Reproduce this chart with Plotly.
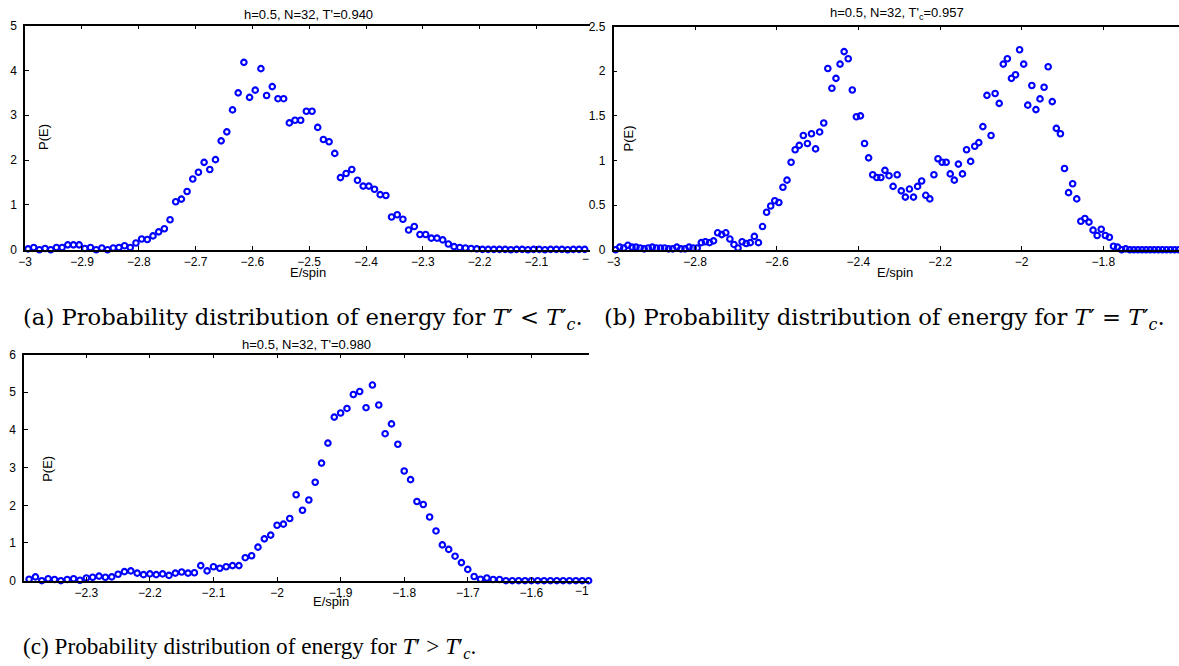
import plotly.graph_objects as go

W, H = 1179, 666

# ---------------- data ----------------
# bin centres: start value and bin width of the energy histogram
E_start_a = -2.995
E_start_b = -2.995
E_start_c = -2.39
E_bin = 0.01

P_a = [0.02, 0.05, 0.00, 0.03, 0.00, 0.05, 0.05, 0.11, 0.11, 0.11,
       0.03, 0.05, 0.00, 0.04, 0.00, 0.04, 0.05, 0.09, 0.05, 0.15,
       0.24, 0.23, 0.31, 0.40, 0.47, 0.67, 1.07, 1.13, 1.30, 1.58,
       1.73, 1.95, 1.79, 2.01, 2.43, 2.63, 3.12, 3.50, 4.18, 3.40,
       3.56, 4.04, 3.44, 3.64, 3.37, 3.37, 2.83, 2.89, 2.89, 3.09,
       3.09, 2.73, 2.46, 2.41, 2.15, 1.61, 1.70, 1.79, 1.55, 1.42,
       1.42, 1.35, 1.23, 1.21, 0.73, 0.78, 0.68, 0.44, 0.52, 0.34,
       0.34, 0.26, 0.26, 0.22, 0.13, 0.07, 0.05, 0.04, 0.03, 0.02,
       0.01, 0.01, 0.01, 0.01, 0.01, 0.00, 0.01, 0.01, 0.00, 0.01,
       0.01, 0.00, 0.01, 0.01, 0.01, 0.00, 0.01, 0.01, 0.01, 0.01]

P_b = [0.00, 0.03, 0.02, 0.05, 0.03, 0.03, 0.02, 0.01, 0.02, 0.03,
       0.02, 0.02, 0.02, 0.01, 0.01, 0.03, 0.01, 0.01, 0.03, 0.02,
       0.02,
       0.08, 0.09, 0.08, 0.10, 0.19, 0.17, 0.19, 0.12, 0.06, 0.02,
       0.09, 0.07, 0.08, 0.15, 0.08, 0.26, 0.42, 0.49, 0.55, 0.53,
       0.70, 0.78, 0.98, 1.12, 1.17, 1.28, 1.19, 1.30, 1.13, 1.32,
       1.42, 2.03, 1.81, 1.92, 2.08, 2.22, 2.14, 1.79, 1.49, 1.50,
       1.19, 1.03, 0.84, 0.81, 0.81, 0.89, 0.83,
       0.71, 0.84, 0.66, 0.59, 0.68, 0.59, 0.71, 0.77, 0.61, 0.57,
       0.84, 1.02, 0.98, 0.98, 0.85, 0.78, 0.96, 0.85, 1.12, 0.99,
       1.16, 1.20, 1.38, 1.73, 1.28, 1.75, 1.64, 2.08, 2.14, 1.92,
       1.96, 2.24, 2.08, 1.62, 1.84, 1.57, 1.69, 1.82, 2.05, 1.66,
       1.36, 1.30, 0.91, 0.64, 0.74, 0.57, 0.32, 0.35, 0.31, 0.22,
       0.16, 0.23, 0.16, 0.14, 0.04, 0.03, 0.00, 0.01,
       0.00, 0.00, 0.00, 0.00, 0.00, 0.00, 0.00, 0.00, 0.00, 0.00,
       0.00, 0.00, 0.00]

P_c = [0.04, 0.10, 0.00, 0.05, 0.03, 0.00, 0.03, 0.05, 0.01, 0.07,
       0.09, 0.12, 0.09, 0.10, 0.17, 0.24, 0.26, 0.20, 0.16, 0.18,
       0.16, 0.18, 0.14, 0.20, 0.23, 0.20, 0.21, 0.40, 0.26, 0.37,
       0.33, 0.37, 0.40, 0.40, 0.61, 0.66, 0.89, 1.11, 1.21, 1.47,
       1.50, 1.65, 2.28, 1.87,
       2.14, 2.61, 3.12, 3.65, 4.34, 4.45, 4.57, 4.94, 5.02, 4.59,
       5.19, 4.66, 3.90, 4.16, 3.62, 2.91, 2.68, 2.10, 2.02, 1.69,
       1.32, 0.95, 0.83, 0.65, 0.48, 0.30, 0.11, 0.04, 0.07, 0.03,
       0.03, 0.00,
       0.00, 0.00, 0.00, 0.00, 0.00, 0.00, 0.00, 0.00, 0.00, 0.00,
       0.00, 0.00, 0.00]

ticks_x_a = [-3, -2.9, -2.8, -2.7, -2.6, -2.5, -2.4, -2.3, -2.2, -2.1]
ticks_y_a = [0, 1, 2, 3, 4, 5]
ticks_x_b = [-3, -2.8, -2.6, -2.4, -2.2, -2, -1.8]
ticks_y_b = [0, 0.5, 1, 1.5, 2, 2.5]
ticks_x_c = [-2.3, -2.2, -2.1, -2, -1.9, -1.8, -1.7, -1.6]
ticks_y_c = [0, 1, 2, 3, 4, 5, 6]

titles = ["h=0.5, N=32, T'=0.940",
          "h=0.5, N=32, T'<sub>c</sub>=0.957",
          "h=0.5, N=32, T'=0.980"]
captions = ["(a) Probability distribution of energy for <i>T</i>′ &lt; <i>T</i>′<sub><i>c</i></sub>.",
            "(b) Probability distribution of energy for <i>T</i>′ = <i>T</i>′<sub><i>c</i></sub>.",
            "(c) Probability distribution of energy for <i>T</i>′ &gt; <i>T</i>′<sub><i>c</i></sub>."]
# tick labels that are cut off at the right edge of the cropped panels (a) and (c)
cut_labels = ["−", "−1"]

E_a = [E_start_a + E_bin * i for i in range(len(P_a))]
E_b = [E_start_b + E_bin * i for i in range(len(P_b))]
E_c = [E_start_c + E_bin * i for i in range(len(P_c))]

# ---------------- figure ----------------
BLUE = "#0000ff"
SANS = "Liberation Sans, Arial, Helvetica, sans-serif"


def px_x(p):
    return p / W


def px_y(p):
    return 1 - p / H


fig = go.Figure()
marker = dict(symbol="circle-open", size=5.5, color=BLUE, line=dict(width=2.1, color=BLUE))
for E, P, xa, ya in [(E_a, P_a, "x", "y"), (E_b, P_b, "x2", "y2"), (E_c, P_c, "x3", "y3")]:
    fig.add_trace(go.Scatter(x=E, y=P, mode="markers", marker=marker,
                             xaxis=xa, yaxis=ya, cliponaxis=False,
                             hoverinfo="x+y"))

ax_common = dict(showgrid=False, zeroline=False, showline=True, linecolor="black",
                 linewidth=1.6, ticks="inside", ticklen=4, tickcolor="black",
                 tickwidth=1, tickfont=dict(family=SANS, size=12, color="black"))


def xax(domain, rng, tv, anchor):
    d = dict(ax_common)
    d.update(domain=domain, range=rng, tickvals=tv, anchor=anchor, mirror="ticks",
             ticklabelstandoff=0)
    return d


def yax(domain, rng, tv, anchor):
    d = dict(ax_common)
    d.update(domain=domain, range=rng, tickvals=tv, anchor=anchor, mirror=False,
             ticklabelstandoff=4)
    return d


fig.update_layout(
    width=W, height=H, margin=dict(l=0, r=0, t=0, b=0),
    paper_bgcolor="white", plot_bgcolor="rgba(0,0,0,0)", showlegend=False,
    xaxis=xax([px_x(18.3), px_x(586)], [-3, -2.0065], ticks_x_a, "y"),
    yaxis=yax([px_y(248), px_y(19)], [0, 5], ticks_y_a, "x"),
    xaxis2=xax([px_x(610.2), 1.0], [-3, -1.6144], ticks_x_b, "y2"),
    yaxis2=yax([px_y(248), px_y(20)], [0, 2.5], ticks_y_b, "x2"),
    xaxis3=xax([px_x(17.3), px_x(585.7)], [-2.3977, -1.509], ticks_x_c, "y3"),
    yaxis3=yax([px_y(586), px_y(355)], [0, 6], ticks_y_c, "x3"),
)

ann = []
lab_font = dict(family=SANS, size=13, color="black")
# titles
for t, (x, y) in zip(titles, [(303, 8), (895, 7), (301, 345)]):
    ann.append(dict(text=t, x=px_x(x), y=px_y(y), xref="paper", yref="paper",
                    xanchor="center", yanchor="middle", showarrow=False, font=lab_font))
# y labels
for (x, y) in [(36, 133), (625, 134), (40, 472)]:
    ann.append(dict(text="P(E)", x=px_x(x), y=px_y(y), xref="paper", yref="paper",
                    xanchor="center", yanchor="middle", textangle=-90, showarrow=False,
                    font=lab_font))
# x labels
for (x, y) in [(303, 271), (893, 271), (326, 607)]:
    ann.append(dict(text="E/spin", x=px_x(x), y=px_y(y), xref="paper", yref="paper",
                    xanchor="center", yanchor="middle", showarrow=False, font=lab_font))
# cut tick labels at the right edge
for t, (x, y) in zip(cut_labels, [(587, 257), (587, 597)]):
    ann.append(dict(text=t, x=px_x(x), y=px_y(y), xref="paper", yref="paper",
                    xanchor="right", yanchor="middle", showarrow=False,
                    font=dict(family=SANS, size=12, color="black")))
# captions
cap_fonts = [dict(family="DejaVu Serif", size=22.7, color="black"),
             dict(family="DejaVu Serif", size=22.7, color="black"),
             dict(family="Liberation Serif", size=23.2, color="black")]
for c, f, (x, y) in zip(captions, cap_fonts, [(14, 319), (599, 319), (14, 655)]):
    ann.append(dict(text=c, x=px_x(x), y=px_y(y), xref="paper", yref="paper",
                    xanchor="left", yanchor="middle", showarrow=False, font=f))

fig.update_layout(annotations=ann)
fig.write_html("out.html")
